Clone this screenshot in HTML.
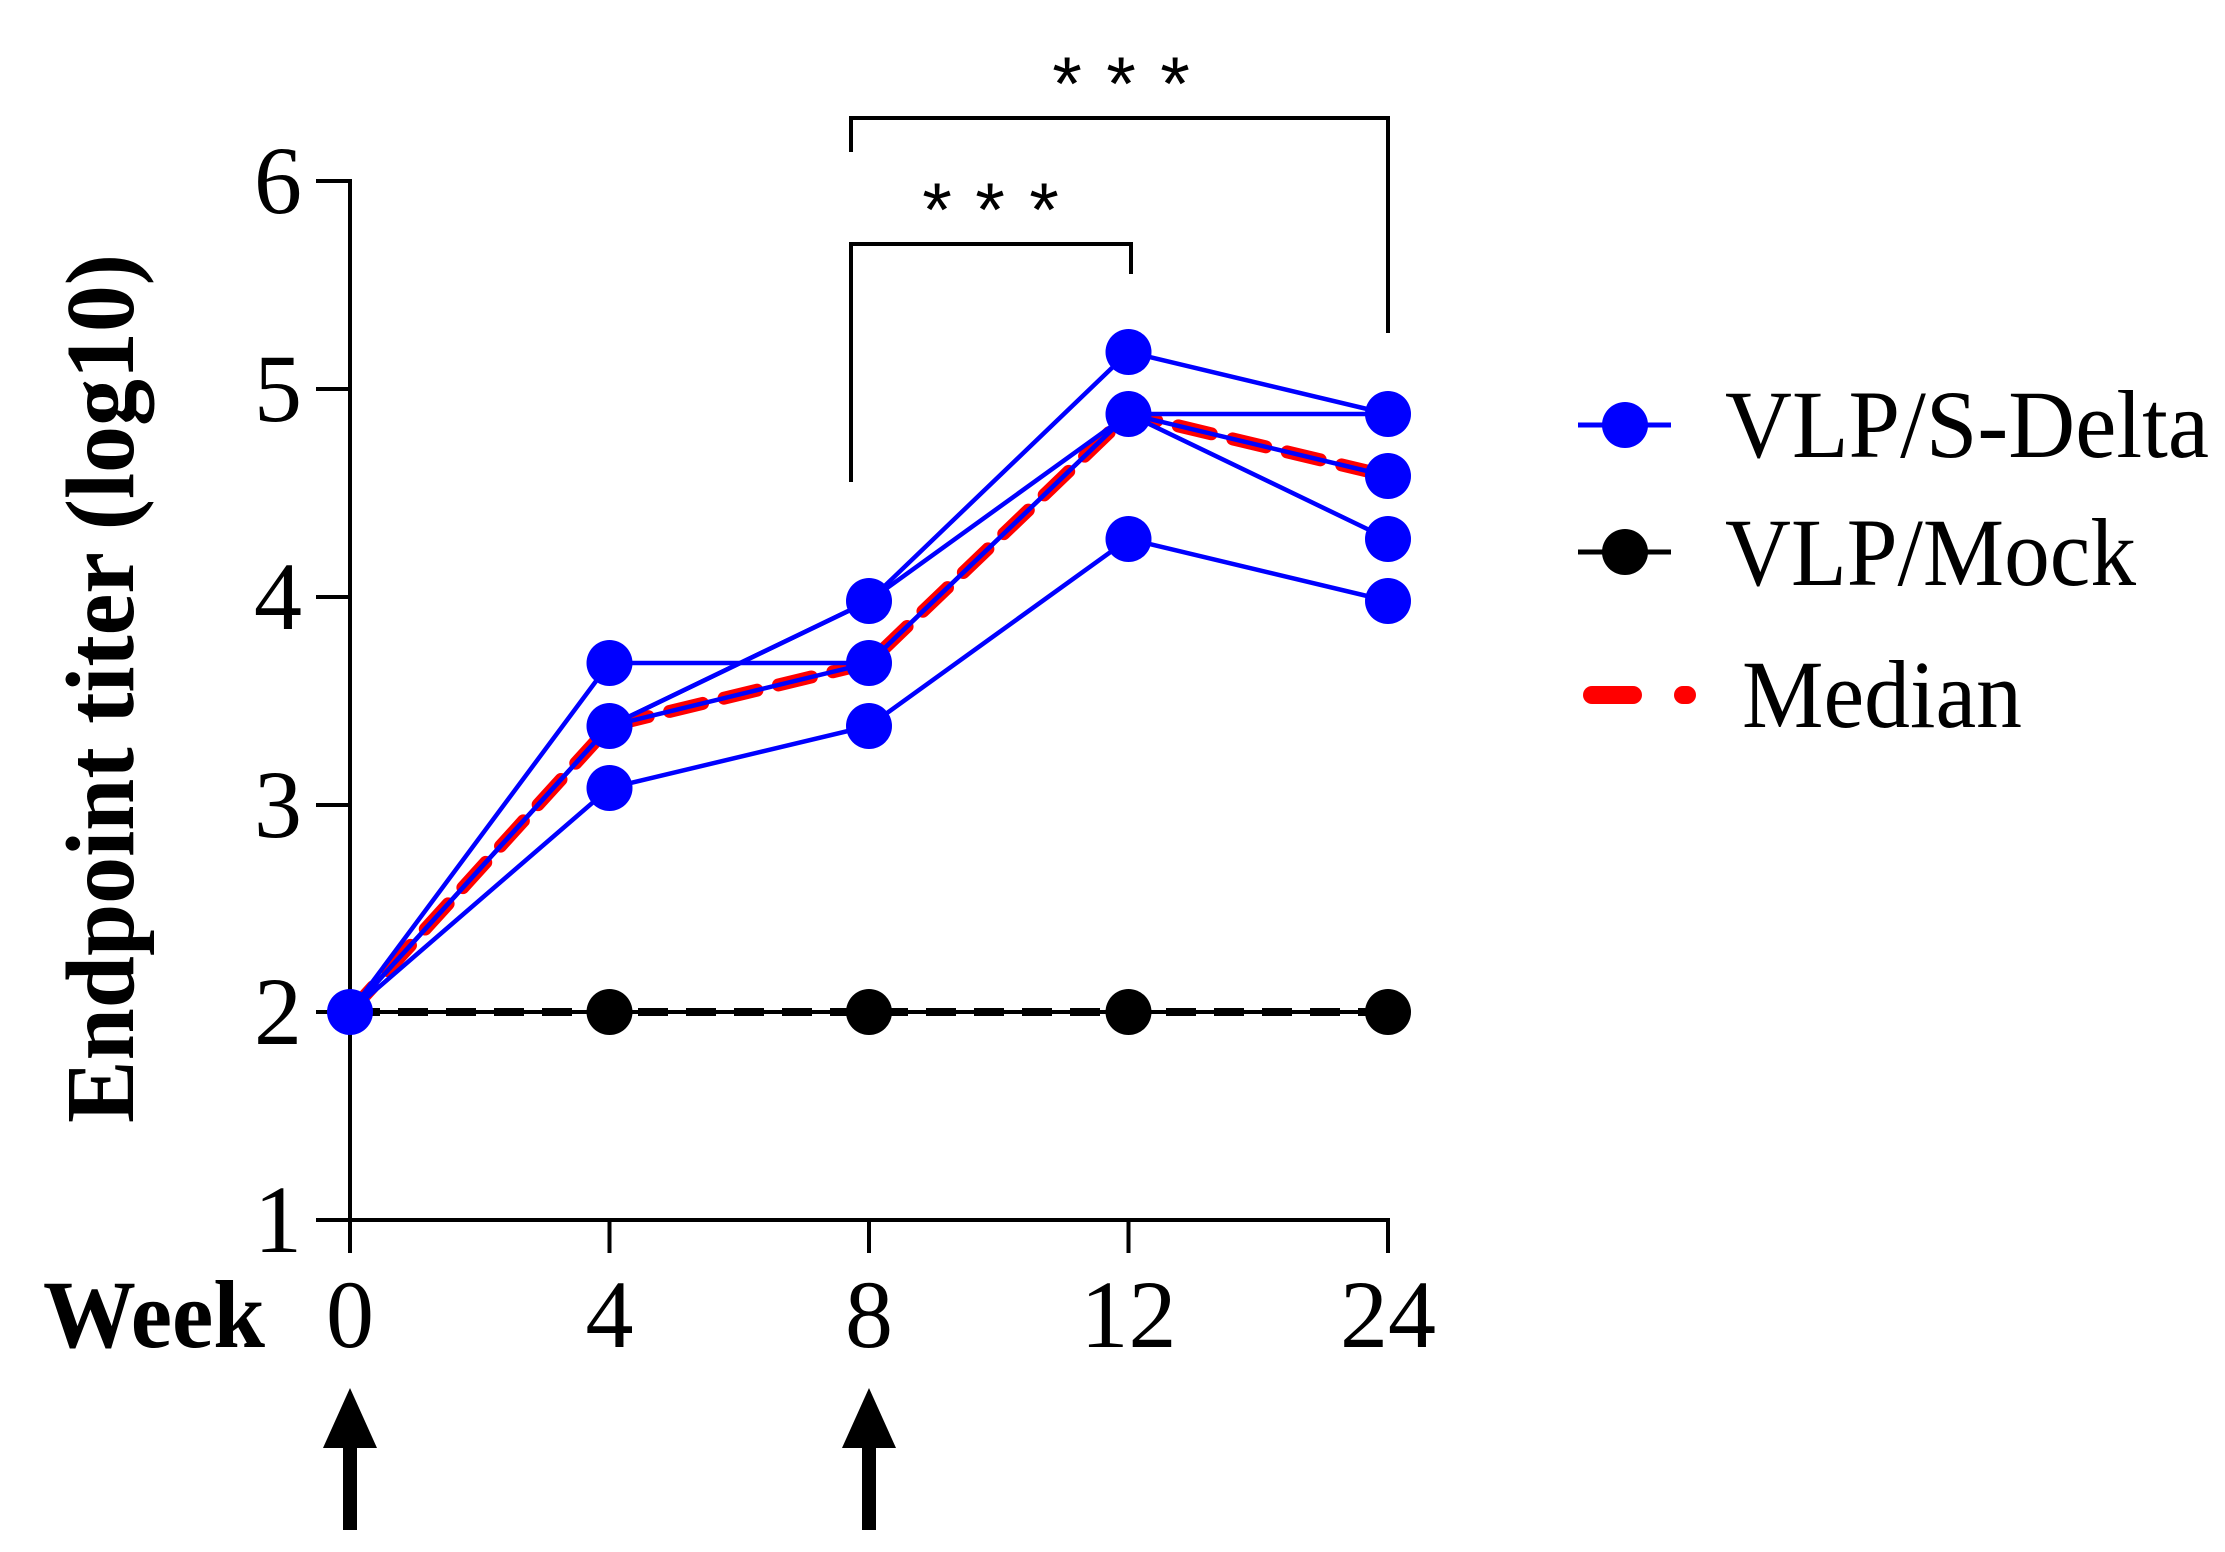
<!DOCTYPE html>
<html><head><meta charset="utf-8"><style>html,body{margin:0;padding:0;background:#fff}svg{display:block}</style></head>
<body>
<svg width="2225" height="1552" viewBox="0 0 2225 1552" xmlns="http://www.w3.org/2000/svg">
<g stroke="#000" stroke-width="4" fill="none">
  <line x1="350" y1="179" x2="350" y2="1222"/>
  <line x1="348" y1="1220" x2="1390" y2="1220"/>
  <line x1="316" y1="181" x2="350" y2="181"/>
  <line x1="316" y1="389" x2="350" y2="389"/>
  <line x1="316" y1="597" x2="350" y2="597"/>
  <line x1="316" y1="805" x2="350" y2="805"/>
  <line x1="316" y1="1012" x2="350" y2="1012"/>
  <line x1="316" y1="1220" x2="350" y2="1220"/>
  <line x1="350" y1="1220" x2="350" y2="1253"/>
  <line x1="609.5" y1="1220" x2="609.5" y2="1253"/>
  <line x1="869" y1="1220" x2="869" y2="1253"/>
  <line x1="1128.5" y1="1220" x2="1128.5" y2="1253"/>
  <line x1="1388" y1="1220" x2="1388" y2="1253"/>
  <polyline points="851,152 851,118 1388,118 1388,333"/>
  <polyline points="851,482 851,244 1131,244 1131,274"/>
</g>
<g font-family="Liberation Sans, sans-serif" font-size="76" text-anchor="middle" fill="#000">
  <text x="1067" y="110">*</text><text x="1121" y="110">*</text><text x="1175" y="110">*</text>
  <text x="937" y="236">*</text><text x="990" y="236">*</text><text x="1044" y="236">*</text>
</g>
<g font-family="Liberation Serif, serif" font-size="96" fill="#000" text-anchor="end">
  <text x="302" y="213">6</text>
  <text x="302" y="421">5</text>
  <text x="302" y="629">4</text>
  <text x="302" y="837">3</text>
  <text x="302" y="1044">2</text>
  <text x="302" y="1252">1</text>
</g>
<g font-family="Liberation Serif, serif" font-size="96" fill="#000" text-anchor="middle">
  <text x="350" y="1347">0</text>
  <text x="609.5" y="1347">4</text>
  <text x="869" y="1347">8</text>
  <text x="1128.5" y="1347">12</text>
  <text x="1388" y="1347">24</text>
</g>
<text x="43" y="1347" font-family="Liberation Serif, serif" font-weight="bold" font-size="96" textLength="222" lengthAdjust="spacingAndGlyphs">Week</text>
<text transform="translate(133,1123) rotate(-90)" font-family="Liberation Serif, serif" font-weight="bold" font-size="98" textLength="869" lengthAdjust="spacingAndGlyphs">Endpoint titer (log10)</text>

<line x1="350" y1="1012" x2="1388" y2="1012" stroke="#000" stroke-width="4"/>
<line x1="350" y1="1012" x2="1388" y2="1012" stroke="#000" stroke-width="8" stroke-dasharray="30 18"/>
<g fill="#000">
  <circle cx="609.5" cy="1012" r="23"/><circle cx="869" cy="1012" r="23"/><circle cx="1128.5" cy="1012" r="23"/><circle cx="1388" cy="1012" r="23"/>
</g>
<polyline points="350,1012 609.5,726 869,663 1128.5,414 1388,476" fill="none" stroke="#f00" stroke-width="13" stroke-dasharray="34 22" stroke-linecap="round"/>
<g fill="none" stroke="#00f" stroke-width="4.5">
  <polyline points="350,1012 609.5,663 869,663 1128.5,414 1388,414"/>
  <polyline points="350,1012 609.5,726 869,601 1128.5,352 1388,414"/>
  <polyline points="350,1012 609.5,726 869,601 1128.5,414 1388,476"/>
  <polyline points="350,1012 609.5,788 869,726 1128.5,539 1388,601"/>
  <polyline points="350,1012 609.5,726 869,663 1128.5,414 1388,539"/>
</g>
<g fill="#00f">
  <circle cx="350" cy="1012" r="23"/>
  <circle cx="609.5" cy="663" r="23"/><circle cx="609.5" cy="726" r="23"/><circle cx="609.5" cy="788" r="23"/>
  <circle cx="869" cy="601" r="23"/><circle cx="869" cy="663" r="23"/><circle cx="869" cy="726" r="23"/>
  <circle cx="1128.5" cy="352" r="23"/><circle cx="1128.5" cy="414" r="23"/><circle cx="1128.5" cy="539" r="23"/>
  <circle cx="1388" cy="414" r="23"/><circle cx="1388" cy="476" r="23"/><circle cx="1388" cy="539" r="23"/><circle cx="1388" cy="601" r="23"/>
</g>
<g fill="#000">
  <rect x="343" y="1440" width="14" height="90"/>
  <polygon points="350,1388 377,1448 323,1448"/>
  <rect x="862" y="1440" width="14" height="90"/>
  <polygon points="869,1388 896,1448 842,1448"/>
</g>
<line x1="1578" y1="425" x2="1671" y2="425" stroke="#00f" stroke-width="5"/>
<circle cx="1625" cy="425" r="23" fill="#00f"/>
<line x1="1578" y1="552" x2="1671" y2="552" stroke="#000" stroke-width="5"/>
<circle cx="1625" cy="552" r="23" fill="#000"/>
<line x1="1592" y1="695" x2="1633" y2="695" stroke="#f00" stroke-width="18" stroke-linecap="round"/>
<line x1="1683" y1="695" x2="1687" y2="695" stroke="#f00" stroke-width="18" stroke-linecap="round"/>
<g font-family="Liberation Serif, serif" font-size="96" fill="#000">
  <text x="1725" y="457" textLength="484" lengthAdjust="spacingAndGlyphs">VLP/S-Delta</text>
  <text x="1725" y="585" textLength="411" lengthAdjust="spacingAndGlyphs">VLP/Mock</text>
  <text x="1742" y="727" textLength="280" lengthAdjust="spacingAndGlyphs">Median</text>
</g>
</svg>
</body></html>
